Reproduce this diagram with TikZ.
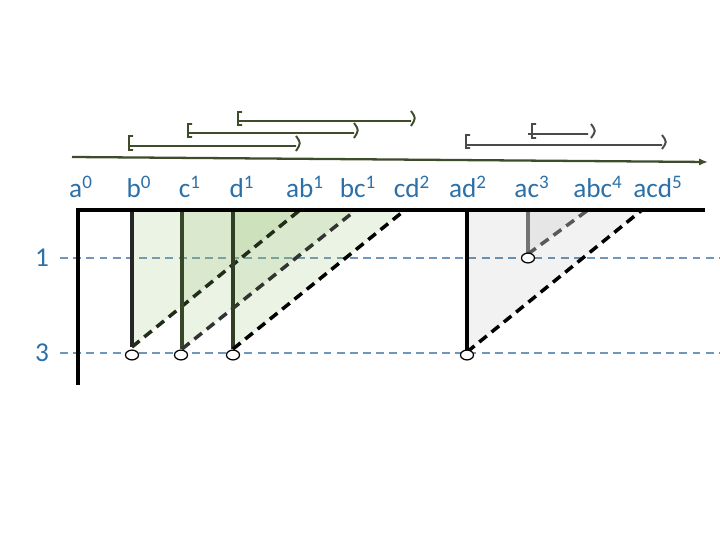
\documentclass[tikz,border=0pt]{standalone}
\usepackage{fontspec}
\setmainfont{Carlito}
\usetikzlibrary{arrows.meta,shapes.geometric}
\definecolor{seqblue}{HTML}{2B70A8}
\definecolor{levelblue}{HTML}{6F97BB}
\definecolor{baroliv}{HTML}{3E4C2C}
\definecolor{bargray}{HTML}{4A4A4A}
\definecolor{winfill}{HTML}{8FBC6A}

\begin{document}
\begin{tikzpicture}[
  x=0.02cm, y=-0.02cm,
  lbl/.style={text=seqblue, font=\fontsize{15.5}{18}\selectfont, inner sep=0pt},
  axis/.style={line width=2.4pt, black},
  level/.style={levelblue, line width=1.5pt, dash pattern=on 4.5pt off 3pt},
  stem/.style={line width=2pt},
  diag/.style={line width=2pt, dash pattern=on 5.5pt off 3.5pt},
  greenwin/.style={fill=winfill, fill opacity=0.18},
  graywin/.style={fill=black, fill opacity=0.05},
  endpt/.style={ellipse, draw, fill=white, line width=0.7pt, minimum width=7.4pt, minimum height=5.6pt, inner sep=0pt},
  ival/.style={line width=1.1pt}
]
\useasboundingbox (0,0) rectangle (720,540);

% time line and intervals
\draw[baroliv, line width=1.3pt, -{Latex[length=5pt,width=4pt]}] (72,157) -- (708,162);
\draw[ival, baroliv] (242,112) -- (238,112) -- (238,125) -- (242,125) (238,121) -- (411,121)
  (411,111) .. controls (416,118) .. (411,126);
\draw[ival, baroliv] (192,124) -- (188,124) -- (188,137) -- (192,137) (188,133) -- (354,133)
  (354,123) .. controls (359,130) .. (354,138);
\draw[ival, baroliv] (133,136) -- (129,136) -- (129,150) -- (133,150) (129,146) -- (296,146)
  (296,136) .. controls (301,143) .. (296,151);
\draw[ival, bargray] (536,124) -- (532,124) -- (532,138) -- (536,138) (528,134) -- (588,134)
  (591,124) .. controls (596,131) .. (591,138);
\draw[ival, bargray] (470,135) -- (466,135) -- (466,148) -- (470,148) (466,145) -- (662,145)
  (662,135) .. controls (667,142) .. (662,149);

% labels
\node[lbl, anchor=base] (a) at (81,198) {a\textsuperscript{0}};
\node[lbl, anchor=base] (b) at (139,198) {b\textsuperscript{0}};
\node[lbl, anchor=base] (c) at (190,198) {c\textsuperscript{1}};
\node[lbl, anchor=base] (d) at (242,198) {d\textsuperscript{1}};
\node[lbl, anchor=base] (ab) at (305,198) {ab\textsuperscript{1}};
\node[lbl, anchor=base] (bc) at (358,198) {bc\textsuperscript{1}};
\node[lbl, anchor=base] (cd) at (412,198) {cd\textsuperscript{2}};
\node[lbl, anchor=base] (ad) at (468,198) {ad\textsuperscript{2}};
\node[lbl, anchor=base] (ac) at (532,198) {ac\textsuperscript{3}};
\node[lbl, anchor=base] (abc) at (598,198) {abc\textsuperscript{4}};
\node[lbl, anchor=base] (acd) at (658,198) {acd\textsuperscript{5}};

% levels
\node[lbl] (one) at (42,258) {1};
\node[lbl] (three) at (42,353) {3};
\draw[level] (60,258) -- (720,258);
\draw[level] (60,353) -- (720,353);

% windows
\fill[graywin] (467,210) -- (467,352) -- (642,210) -- cycle;
\fill[graywin] (528,210) -- (528,254) -- (588,210) -- cycle;
\fill[greenwin] (132,210) -- (132,347) -- (300,210) -- cycle;
\fill[greenwin] (182,210) -- (182,349) -- (356,210) -- cycle;
\fill[greenwin] (233,210) -- (233,349) -- (405,210) -- cycle;

\draw[stem, black!85] (132,210) -- (132,347);
\draw[diag, black!60!winfill!60!black] (132,347) -- (300,210);
\draw[stem, black!45!winfill!70!black] (182,210) -- (182,349);
\draw[diag, black!80] (182,349) -- (356,210);
\draw[stem, black!55!winfill!75!black] (233,210) -- (233,349);
\draw[diag, black] (233,349) -- (405,210);
\draw[stem, black] (467,210) -- (467,352);
\draw[diag, black] (467,352) -- (642,210);
\draw[stem, black!55] (528,210) -- (528,254);
\draw[diag, black!65] (528,254) -- (588,210);

% axes
\draw[axis] (78,385) -- (78,210) -- (705,210);

\node[endpt] (e1) at (132,355) {};
\node[endpt] (e2) at (181,355) {};
\node[endpt] (e3) at (233,355) {};
\node[endpt] (e4) at (467,355) {};
\node[endpt] (e5) at (528,258) {};
\end{tikzpicture}
\end{document}
